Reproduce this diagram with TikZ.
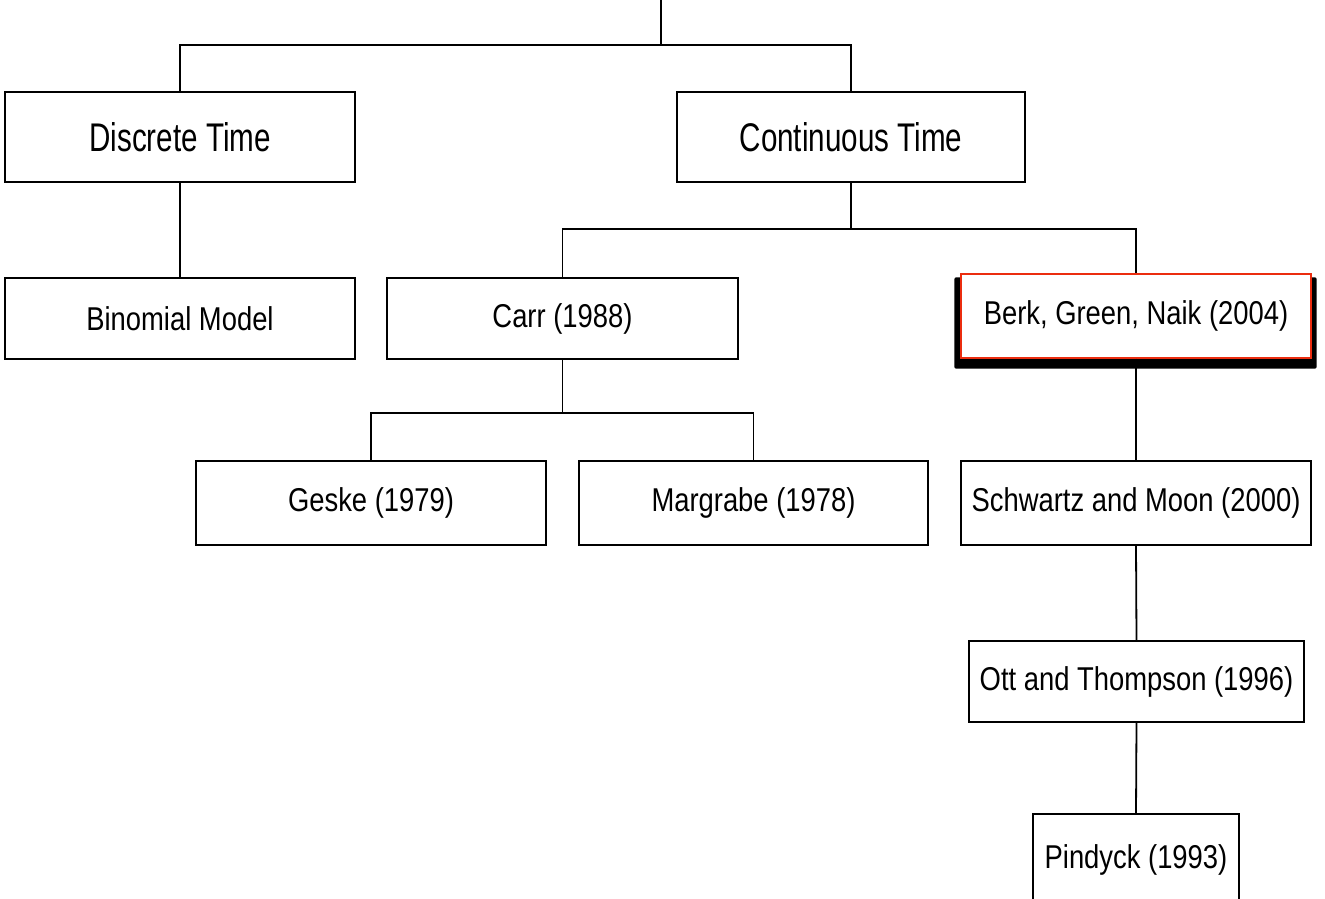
\documentclass[tikz,border=0pt]{standalone}
\usepackage{fontspec}
\setmainfont{Liberation Sans}
\newfontfamily\bigf{Liberation Sans}[FakeStretch=0.74]
\newfontfamily\smallf{Liberation Sans}[FakeStretch=0.83]
\usetikzlibrary{backgrounds,calc}
\definecolor{bred}{RGB}{235,45,15}
\tikzset{
  box/.style={draw=black, line width=1.8pt, fill=white, inner sep=0pt, font=\smallf\fontsize{33}{38}\selectfont},
  bigbox/.style={box, font=\bigf\fontsize{40}{46}\selectfont},
  conn/.style={draw=black, line width=1.8pt},
}
\begin{document}
\begin{tikzpicture}[x=1pt,y=-1pt]
\clip (0,0) rectangle (1325,898);
\node[bigbox, minimum width=350, minimum height=90] (disc) at (180,137) {Discrete Time};
\node[bigbox, minimum width=348, minimum height=90] (cont) at (851,137) {Continuous Time};
\node[box, minimum width=350, minimum height=81] (binom) at (180,318.5) {Binomial Model};
\node[box, minimum width=351, minimum height=81] (carr) at (562.5,318.5) {Carr (1988)};
\node[box, draw=bred, line width=1.4pt, minimum width=350, minimum height=84] (berk) at (1136,316) {Berk, Green, Naik (2004)};
\node[box, minimum width=350, minimum height=84] (geske) at (371,503) {Geske (1979)};
\node[box, minimum width=349, minimum height=84] (marg) at (753.5,503) {Margrabe (1978)};
\node[box, minimum width=350, minimum height=84] (schw) at (1136,503) {Schwartz and Moon (2000)};
\node[box, minimum width=335, minimum height=81] (ott) at (1136.5,681.5) {Ott and Thompson (1996)};
\node[box, minimum width=206, minimum height=92] (pind) at (1136,860) {Pindyck (1993)};
\begin{scope}[on background layer]
\fill[black, rounded corners=2pt] ($(berk.north west)+(-6,4)$) rectangle ($(berk.south east)+(5,10)$);
\end{scope}
\coordinate (root) at (661,-5);
\coordinate (j1) at (661,45);
\coordinate (j2) at (851,229);
\coordinate (j3) at (562.5,413);
\draw[conn] (root) -- (j1);
\draw[conn] (disc.north) |- (j1) -| (cont.north);
\draw[conn] (disc.south) -- (binom.north);
\draw[conn] (cont.south) -- (j2);
\draw[conn] (carr.north) |- (j2) -| (berk.north);
\draw[conn] (carr.south) -- (j3);
\draw[conn] (geske.north) |- (j3) -| (marg.north);
\draw[conn] (berk.south) -- (schw.north);
\draw[conn] (schw.south) -- (ott.north);
\draw[conn] (ott.south) -- (pind.north);
\end{tikzpicture}
\end{document}
